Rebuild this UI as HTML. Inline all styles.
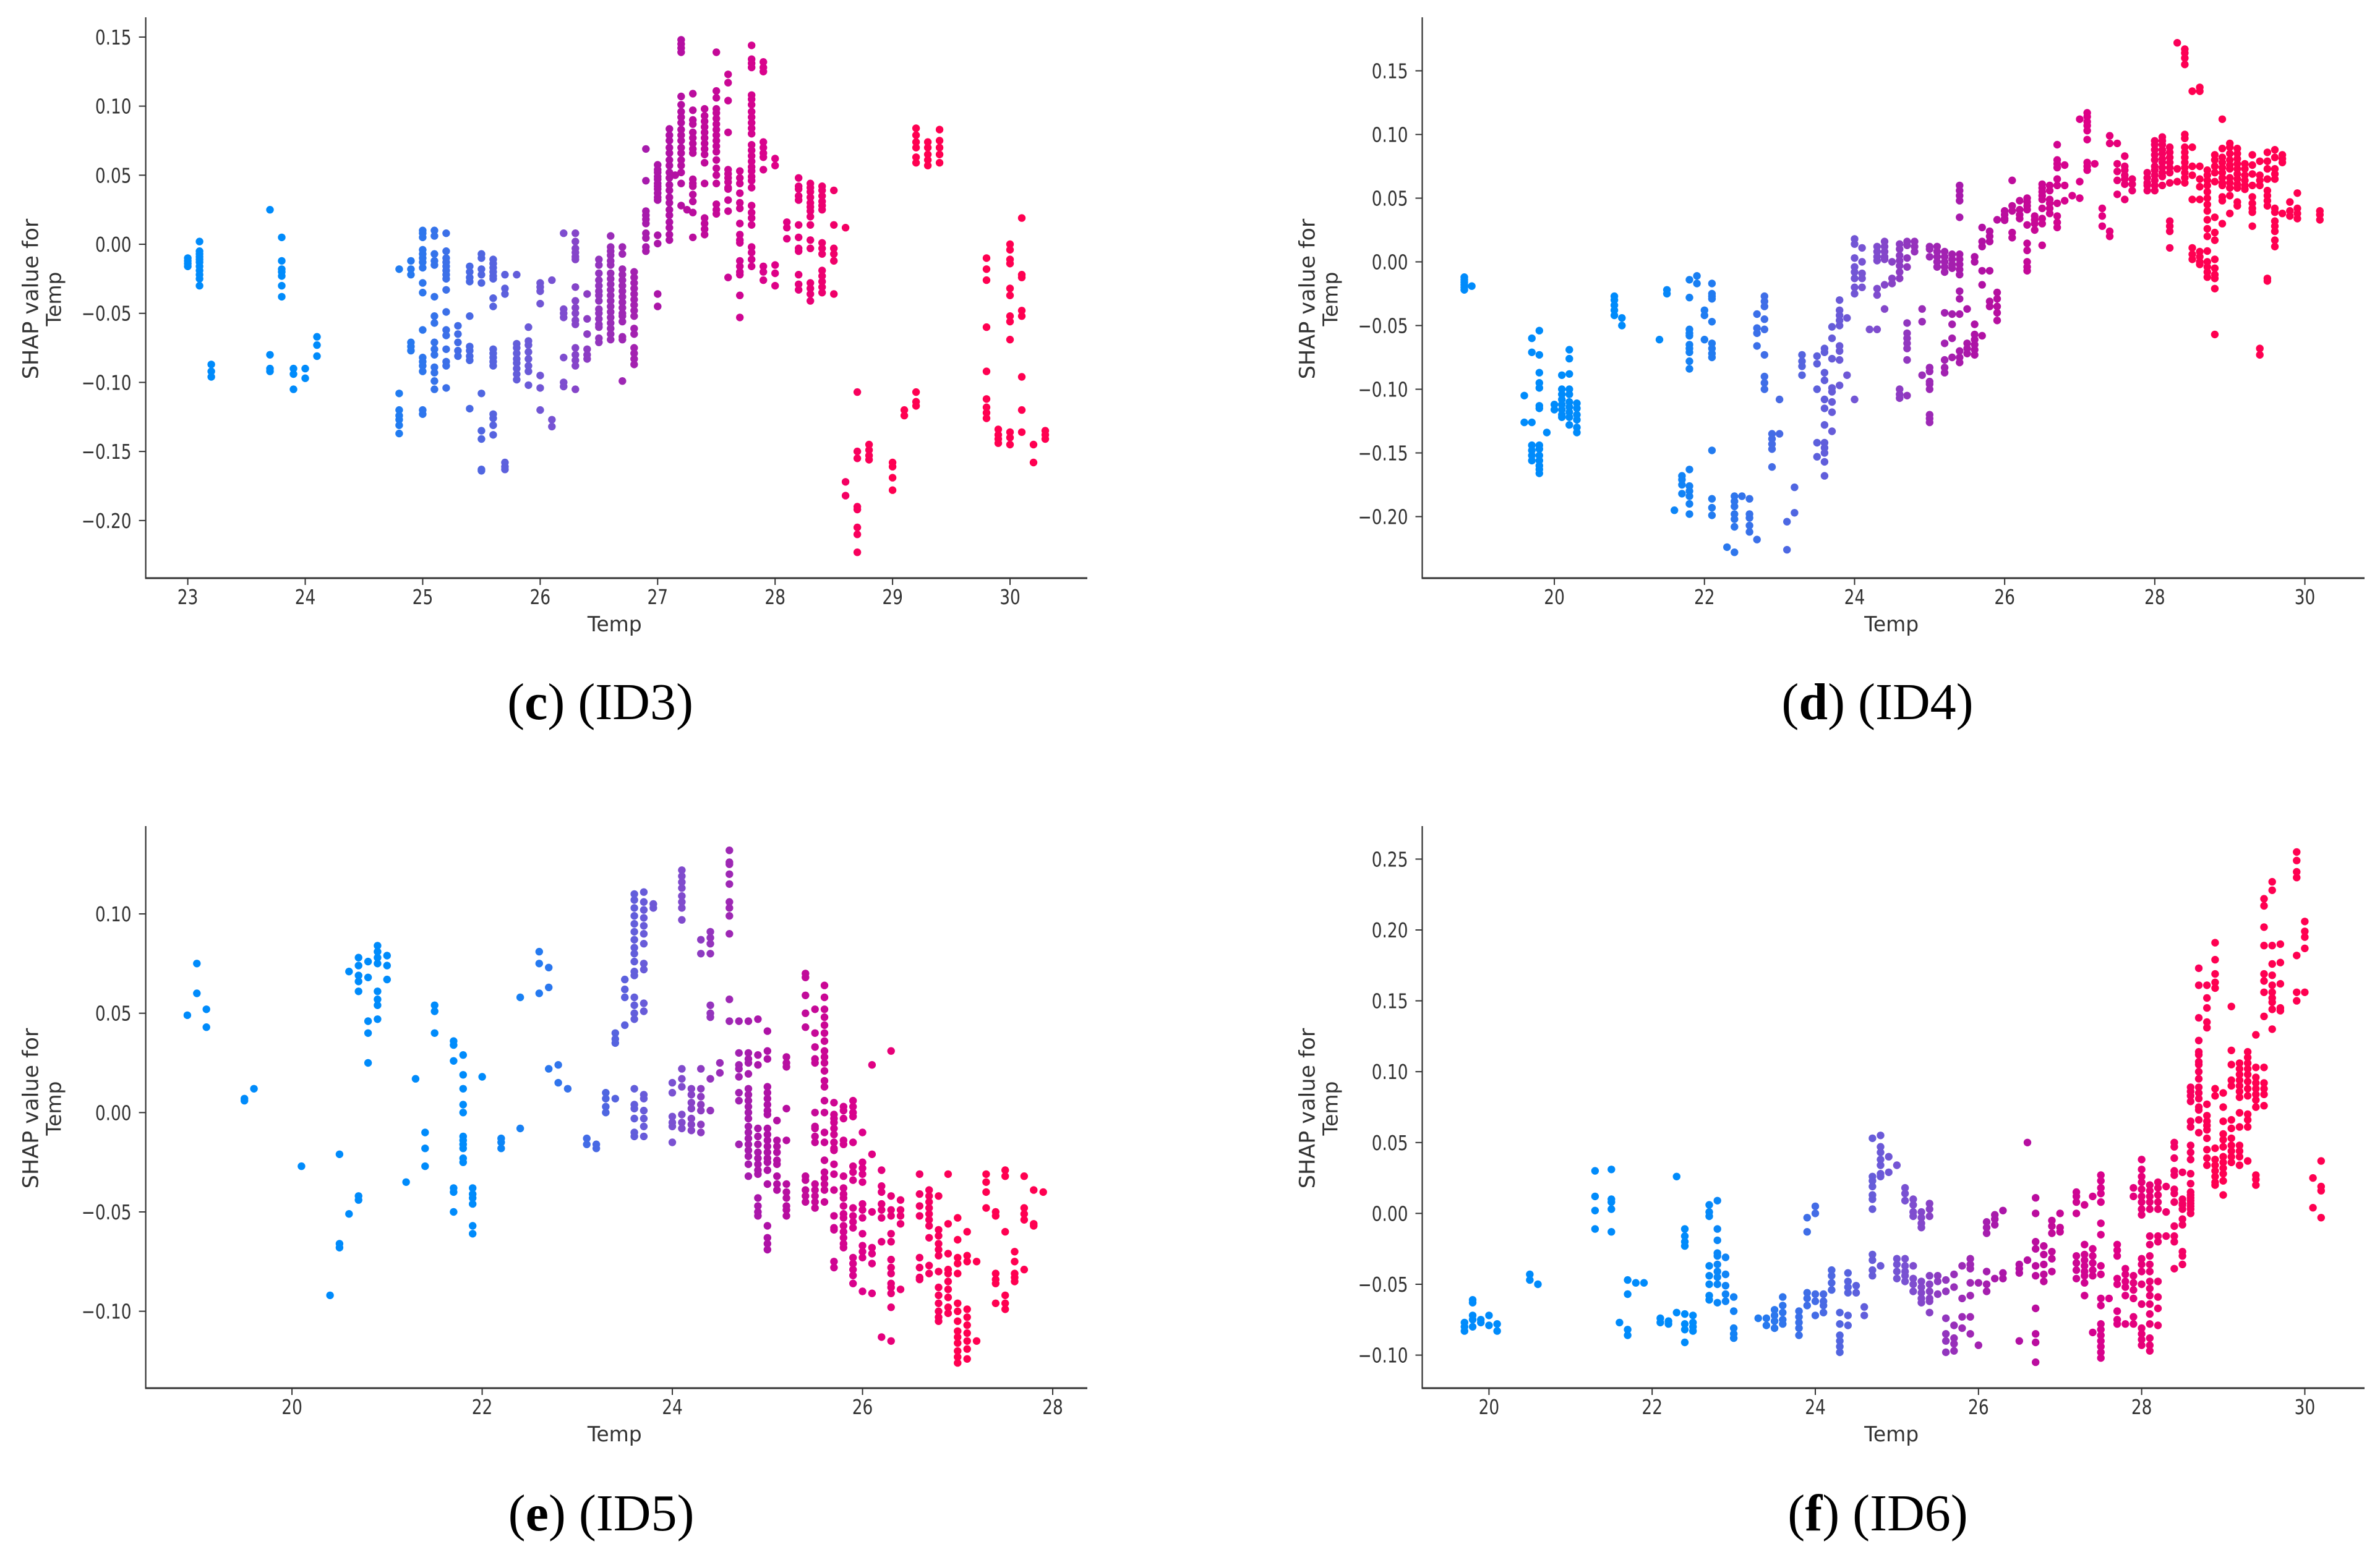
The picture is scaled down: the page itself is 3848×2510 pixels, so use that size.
<!DOCTYPE html>
<html lang="en">
<head>
<meta charset="utf-8">
<title>SHAP dependence plots for Temp</title>
<style>
html,body{margin:0;padding:0;background:#fff}
svg{display:block}
</style>
</head>
<body>
<svg id="figure" xmlns="http://www.w3.org/2000/svg" width="3848" height="2510" viewBox="0 0 3848 2510">
<rect width="3848" height="2510" fill="#ffffff"/>
</svg>
<script>
const id3Temps=[23,23.1,23.2,23.7,23.8,23.9,24,24.1,24.8,24.9,25,25.1,25.2,25.3,25.4,25.5,25.6,25.7,25.8,25.9,26,26.1,26.2,26.3,26.4,26.5,26.6,26.7,26.8,26.9,27,27.1,27.15,27.2,27.25,27.3,27.4,27.5,27.6,27.7,27.8,27.9,28,28.1,28.2,28.3,28.4,28.5,28.6,28.7,28.8,29,29.1,29.2,29.3,29.4,29.8,29.9,30,30.1,30.2,30.3];
const id3Shap=[
[-.010,-.012,-.014,-.016],
[.002,-.005,-.007,-.009,-.011,-.013,-.016,-.019,-.022,-.025,-.030],
[-.087,-.092,-.096],
[.025,-.08,-.09,-.092],
[.005,-.012,-.018,-.02,-.023,-.03,-.038],
[-.09,-.094,-.105],
[-.09,-.097],
[-.067,-.073,-.081],
[-.018,-.108,-.12,-.124,-.127,-.131,-.137],
[-.012,-.018,-.022,-.071,-.074,-.077],
[.01,.008,.005,-.004,-.007,-.01,-.013,-.017,-.028,-.035,-.062,-.082,-.085,-.088,-.092,-.12,-.123],
[.01,.006,-.007,-.012,-.015,-.038,-.052,-.057,-.071,-.076,-.08,-.089,-.093,-.099,-.105],
[.008,-.005,-.01,-.013,-.016,-.019,-.022,-.025,-.033,-.049,-.062,-.066,-.076,-.085,-.088,-.104],
[-.059,-.065,-.071,-.077,-.081],
[-.016,-.02,-.024,-.027,-.052,-.074,-.077,-.081,-.084,-.119],
[-.007,-.01,-.018,-.022,-.028,-.108,-.135,-.141,-.163,-.164],
[-.011,-.014,-.017,-.02,-.023,-.025,-.039,-.045,-.076,-.079,-.082,-.085,-.088,-.123,-.126,-.131,-.138],
[-.022,-.032,-.036,-.158,-.161,-.163],
[-.022,-.072,-.075,-.079,-.083,-.086,-.09,-.094,-.098],
[-.06,-.07,-.073,-.078,-.083,-.088,-.092,-.102],
[-.028,-.031,-.034,-.043,-.095,-.104,-.12],
[-.026,-.127,-.132],
[.008,-.047,-.05,-.053,-.082,-.1,-.103],
[.008,.002,-.003,-.006,-.009,-.011,-.031,-.041,-.046,-.05,-.055,-.058,-.075,-.08,-.084,-.088,-.105],
[-.036,-.054,-.065,-.076,-.08,-.083],
[-.011,-.015,-.021,-.026,-.03,-.034,-.037,-.041,-.047,-.05,-.054,-.058,-.06,-.068,-.071],
[.006,-.002,-.005,-.008,-.012,-.015,-.021,-.025,-.029,-.033,-.037,-.041,-.045,-.049,-.053,-.057,-.061,-.065,-.069],
[-.002,-.007,-.018,-.022,-.026,-.03,-.034,-.038,-.042,-.046,-.05,-.052,-.056,-.067,-.069,-.099],
[-.02,-.024,-.028,-.032,-.036,-.04,-.044,-.048,-.052,-.061,-.065,-.075,-.079,-.083,-.087],
[.069,.046,.024,.021,.018,.015,.008,.0045,-.002,-.005],
[.0575,.054,.052,.049,.047,.044,.042,.04,.037,.034,.032,.0065,.0005,-.036,-.045],
[.0835,.079,.075,.07,.066,.061,.057,.052,.048,.043,.039,.034,.03,.025,.021,.016,.012,.007,.003],
[.05],
[.148,.145,.142,.139,.107,.101,.096,.092,.088,.083,.079,.075,.07,.066,.061,.057,.052,.044,.028],
[.025],
[.109,.097,.09,.087,.081,.077,.073,.069,.066,.047,.044,.042,.036,.031,.023,.005],
[.098,.093,.089,.085,.081,.077,.073,.069,.065,.059,.044,.019,.015,.011,.007],
[.139,.111,.106,.098,.095,.091,.087,.083,.079,.075,.071,.067,.061,.055,.05,.044,.029,.025,.022],
[.123,.117,.104,.081,.054,.051,.048,.045,.041,.04,.032,.024,-.024],
[.053,.048,.044,.037,.03,.026,.015,.007,.003,.001,-.012,-.016,-.02,-.022,-.037,-.053],
[.144,.134,.131,.128,.108,.105,.101,.096,.092,.088,.084,.08,.072,.068,.064,.06,.056,.053,.049,.046,.041,.028,.023,.019,.014,-.002,-.006,-.011,-.016],
[.132,.128,.125,.074,.07,.066,.063,.054,-.016,-.02,-.026],
[.062,.057,-.015,-.021,-.03],
[.016,.012,.004],
[.048,.042,.04,.035,.032,.014,.005,-.003,-.005,-.022,-.029,-.033],
[.044,.041,.038,.034,.03,.027,.024,.02,.014,.003,-.003,-.028,-.032,-.036,-.041],
[.042,.039,.035,.031,.028,.025,.001,-.003,-.007,-.019,-.023,-.027,-.031,-.035],
[.039,.014,-.003,-.007,-.012,-.036],
[.012,-.172,-.182],
[-.107,-.15,-.155,-.19,-.192,-.205,-.21,-.223],
[-.145,-.149,-.153,-.156],
[-.158,-.161,-.169,-.178],
[-.12,-.124],
[.084,.079,.074,.07,.063,.059,-.107,-.114,-.117],
[.074,.07,.065,.061,.057],
[.083,.075,.07,.065,.059],
[-.01,-.018,-.026,-.06,-.092,-.112,-.118,-.122,-.126],
[-.134,-.138,-.141,-.144],
[0,-.004,-.011,-.014,-.032,-.037,-.052,-.056,-.069,-.136,-.14,-.145],
[.019,-.022,-.024,-.048,-.052,-.096,-.12,-.136],
[-.145,-.158],
[-.135,-.138,-.141]
];
const id3XTicks=[23,24,25,26,27,28,29,30];
const id3YTicks=[.15,.1,.05,0,-.05,-.1,-.15,-.2];

const id4Temps=[18.8,18.9,19.6,19.7,19.8,19.9,20,20.1,20.2,20.3,20.8,20.9,21.4,21.5,21.6,21.7,21.8,21.9,22,22.1,22.3,22.4,22.5,22.6,22.7,22.8,22.9,23,23.1,23.2,23.3,23.5,23.6,23.7,23.8,23.9,24,24.1,24.2,24.3,24.4,24.5,24.6,24.7,24.8,24.9,25,25.1,25.2,25.3,25.4,25.5,25.6,25.7,25.8,25.9,26,26.1,26.2,26.3,26.4,26.5,26.6,26.7,26.8,26.9,27,27.1,27.2,27.3,27.4,27.5,27.6,27.7,27.9,28,28.1,28.2,28.3,28.4,28.5,28.6,28.7,28.8,28.9,29,29.1,29.2,29.3,29.4,29.5,29.6,29.7,29.8,29.9,30.2];
const id4Shap=[
[-.012,-.014,-.016,-.018,-.02,-.022],
[-.019],
[-.105,-.126],
[-.06,-.071,-.126,-.144,-.148,-.152,-.156],
[-.054,-.073,-.087,-.095,-.099,-.113,-.115,-.144,-.147,-.152,-.156,-.16,-.163,-.166],
[-.134],
[-.112,-.116],
[-.089,-.1,-.104,-.108,-.112,-.116,-.12,-.122],
[-.069,-.076,-.088,-.1,-.104,-.11,-.114,-.118,-.122,-.128],
[-.111,-.115,-.12,-.124,-.13,-.134],
[-.027,-.03,-.034,-.038,-.042],
[-.044,-.05],
[-.061],
[-.022,-.025],
[-.195],
[-.168,-.171,-.175,-.182],
[-.014,-.028,-.053,-.056,-.058,-.065,-.068,-.071,-.078,-.084,-.163,-.176,-.18,-.184,-.19,-.198],
[-.011,-.017],
[-.038,-.042,-.061],
[-.017,-.025,-.027,-.029,-.047,-.064,-.068,-.072,-.075,-.148,-.186,-.193,-.199],
[-.224],
[-.184,-.188,-.192,-.198,-.202,-.208,-.228],
[-.184],
[-.186,-.198,-.201,-.207,-.212],
[-.041,-.052,-.056,-.066,-.218],
[-.027,-.031,-.035,-.045,-.053,-.073,-.09,-.095,-.1],
[-.135,-.139,-.143,-.147,-.161],
[-.108,-.135],
[-.204,-.226],
[-.177,-.197],
[-.073,-.078,-.082,-.089],
[-.074,-.08,-.1,-.142,-.153],
[-.068,-.071,-.087,-.093,-.108,-.115,-.128,-.142,-.146,-.15,-.157,-.168],
[-.051,-.06,-.076,-.099,-.102,-.11,-.118,-.133],
[-.03,-.038,-.042,-.046,-.05,-.066,-.07,-.077,-.097],
[-.044,-.089],
[.018,.014,.003,-.004,-.008,-.013,-.02,-.025,-.108],
[.011,0,-.009,-.013,-.02],
[-.053],
[.012,.008,.004,.001,-.021,-.026,-.053],
[.016,.012,.008,.004,.002,-.018,-.037],
[0,-.013,-.017],
[.014,.01,.005,.001,-.003,-.008,-.013,-.1,-.104,-.107],
[.016,.013,.003,-.004,-.048,-.056,-.06,-.064,-.068,-.077,-.105],
[.016,.012,.008],
[-.037,-.047,-.089],
[.012,.01,.004,-.083,-.086,-.094,-.096,-.1,-.12,-.123,-.126],
[.012,.008,.004,0,-.004],
[.008,.004,0,-.004,-.008,-.04,-.064,-.077,-.083,-.087],
[.006,.002,-.002,-.005,-.041,-.049,-.06,-.075],
[.06,.056,.052,.048,.035,.006,.002,-.002,-.006,-.01,-.023,-.029,-.041,-.07,-.075,-.079],
[-.037,-.064,-.068,-.072],
[.004,0,-.049,-.057,-.061,-.065,-.069,-.073],
[.027,.016,.012,-.007,-.018,-.058],
[.024,.02,.016,-.007,-.031,-.035],
[.033,-.024,-.029,-.035,-.04,-.046],
[.04,.037,.034,.0327],
[.064,.044,.04,.023,.019],
[.048,.041,.037,.034],
[.05,.047,.044,.041,.029,.0145,.009,0,-.004,-.007],
[.036,.033,.03,.025],
[.061,.058,.055,.052,.049,.042,.034,.03,.013],
[.06,.056,.049,.046,.042,.038],
[.092,.08,.077,.074,.065,.06,.046,.036,.031,.027],
[.076,.06,.048],
[.052],
[.112,.063,.05],
[.117,.114,.11,.107,.103,.096,.078,.075,.072],
[.077],
[.042,.036,.028],
[.099,.093,.024,.02],
[.093,.077,.071,.064,.053],
[.083,.075,.072,.068,.065,.061,.049],
[.065,.061,.056],
[.07,.066,.062,.06,.056],
[.095,.092,.088,.084,.08,.075,.072,.068,.064,.06,.056],
[.098,.095,.092,.088,.085,.081,.078,.074,.07,.067,.06],
[.09,.086,.082,.078,.074,.07,.062,.032,.028,.024,.011],
[.172,.073,.063],
[.167,.164,.16,.155,.1,.097,.09,.086,.082,.078,.074,.07,.066,.062],
[.134,.09,.075,.068,.049,.011,.006,.002],
[.137,.134,.075,.065,.059,.049,.008,.004,0,-.002],
[.072,.068,.064,.06,.055,.05,.045,.04,.033,.026,.02,.0085,0,-.004,-.008,-.012],
[.084,.08,.075,.07,.063,.035,.023,.017,.002,-.005,-.01,-.013,-.021,-.057],
[.112,.089,.082,.078,.074,.07,.066,.062,.06,.051,.048,.03],
[.093,.09,.085,.08,.076,.073,.066,.062,.058,.052,.038],
[.089,.085,.081,.077,.073,.069,.065,.061,.058,.047,.044],
[.077,.073,.068,.064,.06,.057],
[.084,.076,.069,.06,.051,.046,.042,.039,.028],
[.079,.068,.064,.06,-.068,-.073],
[.086,.079,.073,.065,.056,.052,.048,.044,-.013,-.015],
[.088,.082,.073,.069,.065,.042,.039,.032,.028,.024,.017,.012],
[.084,.081,.078,.038],
[.047,.04,.036],
[.054,.042,.038,.034],
[.04,.037,.033]
];
const id4XTicks=[20,22,24,26,28,30];
const id4YTicks=[.15,.1,.05,0,-.05,-.1,-.15,-.2];

const id5Temps=[18.9,19,19.1,19.5,19.6,20.1,20.4,20.5,20.6,20.7,20.8,20.9,21,21.2,21.3,21.4,21.5,21.7,21.8,21.9,22,22.2,22.4,22.6,22.7,22.8,22.9,23.1,23.2,23.3,23.4,23.5,23.6,23.7,23.8,24,24.1,24.2,24.3,24.4,24.5,24.6,24.7,24.8,24.9,25,25.1,25.2,25.4,25.5,25.6,25.7,25.8,25.9,26,26.1,26.2,26.3,26.4,26.6,26.7,26.8,26.9,27,27.1,27.2,27.3,27.4,27.5,27.6,27.7,27.8,27.9];
const id5Shap=[
[.049],
[.075,.06],
[.052,.043],
[.007,.006],
[.012],
[-.027],
[-.092],
[-.021,-.066,-.068],
[.071,-.051],
[.078,.074,.069,.066,.061,-.042,-.044],
[.076,.068,.046,.04,.025],
[.084,.081,.078,.075,.061,.057,.054,.047],
[.079,.074,.067],
[-.035],
[.017],
[-.01,-.018,-.027],
[.054,.051,.04],
[.036,.034,.026,-.038,-.04,-.05],
[.029,.019,.012,.004,0,-.012,-.014,-.016,-.018,-.023,-.025],
[-.038,-.041,-.043,-.046,-.057,-.061],
[.018],
[-.013,-.015,-.018],
[.058,-.008],
[.081,.075,.06],
[.073,.063,.022],
[.024,.015],
[.012],
[-.013,-.016],
[-.016,-.018],
[.01,.007,.003,0],
[.04,.037,.035,.007],
[.067,.062,.058,.044],
[.11,.107,.103,.099,.095,.091,.087,.083,.08,.076,.071,.069,.058,.054,.05,.047,.012,.004,.002,-.003,-.01,-.012],
[.111,.106,.102,.098,.094,.09,.085,.075,.072,.055,.051,.009,.007,.001,-.003,-.007,-.012],
[.105,.103],
[.015,.01,-.002,-.005,-.007,-.015],
[.122,.119,.116,.113,.109,.106,.103,.097,.022,.017,.013,-.001,-.005,-.008],
[.012,.009,.005,.002,-.003,-.006,-.009],
[.087,.08,.022,.012,.008,.004,.001,-.006,-.01],
[.091,.088,.085,.08,.054,.05,.048,.017,.001],
[.025,.02],
[.132,.126,.125,.12,.115,.106,.103,.099,.09,.057,.046],
[.046,.03,.024,.022,.018,.01,.006,-.016],
[.046,.03,.027,.025,.0195,.012,.009,.006,.003,0,-.003,-.007,-.01,-.013,-.016,-.019,-.022,-.026,-.032],
[.047,.029,.024,-.008,-.012,-.016,-.02,-.023,-.026,-.029,-.031,-.043,-.047,-.05,-.052],
[.041,.031,.027,.013,.01,.007,.004,.001,-.001,-.008,-.011,-.014,-.017,-.02,-.023,-.025,-.029,-.036,-.057,-.063,-.066,-.069],
[-.004,-.014,-.017,-.02,-.024,-.026,-.032,-.036,-.039],
[.028,.025,.023,.002,-.014,-.036,-.04,-.043,-.047,-.049,-.052],
[.07,.068,.059,.05,.043,-.032,-.034,-.039,-.042,-.045],
[.052,.04,.033,.027,.025,0,-.007,-.008,-.012,-.015,-.036,-.039,-.042,-.045,-.048],
[.064,.058,.052,.048,.044,.04,.036,.031,.028,.025,.021,.016,.013,.006,0,-.01,-.015,-.024,-.03,-.033,-.036,-.039,-.045],
[.005,-.001,-.003,-.005,-.008,-.011,-.015,-.018,-.019,-.026,-.031,-.039,-.052,-.058,-.059,-.075,-.078],
[.003,.001,-.003,-.014,-.016,-.032,-.038,-.041,-.043,-.047,-.051,-.053,-.057,-.06,-.063,-.066,-.068],
[.006,.003,0,-.002,-.015,-.027,-.03,-.034,-.048,-.052,-.055,-.058,-.073,-.076,-.079,-.082,-.086],
[-.01,-.025,-.028,-.031,-.035,-.046,-.049,-.053,-.061,-.067,-.07,-.073,-.09],
[.024,-.021,-.05,-.068,-.071,-.076,-.091],
[-.029,-.037,-.04,-.046,-.049,-.053,-.065,-.113],
[.031,-.042,-.049,-.052,-.061,-.065,-.074,-.078,-.081,-.086,-.088,-.091,-.098,-.115],
[-.044,-.049,-.052,-.056,-.089],
[-.031,-.041,-.047,-.052,-.073,-.078,-.083,-.084],
[-.039,-.042,-.045,-.048,-.051,-.054,-.057,-.063,-.077,-.081],
[-.042,-.059,-.062,-.066,-.069,-.072,-.08,-.088,-.092,-.096,-.1,-.103,-.105],
[-.031,-.056,-.071,-.079,-.081,-.085,-.089,-.093,-.098,-.101],
[-.053,-.064,-.073,-.076,-.081,-.096,-.1,-.105,-.11,-.113,-.116,-.12,-.123,-.126],
[-.06,-.072,-.075,-.099,-.103,-.107,-.111,-.115,-.119,-.124],
[-.075,-.115],
[-.031,-.035,-.04,-.048],
[-.05,-.052,-.081,-.084,-.086,-.096],
[-.029,-.032,-.06,-.092,-.096,-.099],
[-.07,-.075,-.081,-.083,-.085],
[-.032,-.048,-.051,-.054,-.079],
[-.039,-.056,-.057],
[-.04]
];
const id5XTicks=[20,22,24,26,28];
const id5YTicks=[.1,.05,0,-.05,-.1];

const id6Temps=[19.7,19.8,19.9,20,20.1,20.5,20.6,21.3,21.5,21.6,21.7,21.8,21.9,22.1,22.2,22.3,22.4,22.5,22.7,22.8,22.9,23,23.3,23.4,23.5,23.6,23.8,23.9,24,24.1,24.2,24.3,24.4,24.5,24.6,24.7,24.8,24.9,25,25.1,25.2,25.3,25.4,25.5,25.6,25.7,25.8,25.9,26,26.1,26.2,26.3,26.5,26.6,26.7,26.8,26.9,27,27.2,27.3,27.4,27.5,27.6,27.7,27.8,27.9,28,28.1,28.2,28.3,28.4,28.5,28.6,28.7,28.8,28.9,29,29.1,29.2,29.3,29.4,29.5,29.6,29.7,29.9,30,30.1,30.2];
const id6Shap=[
[-.077,-.08,-.083],
[-.061,-.063,-.072,-.075,-.08],
[-.075,-.077],
[-.072,-.079],
[-.078,-.083],
[-.043,-.047],
[-.05],
[.03,.012,.002,-.011],
[.031,.01,.008,.003,-.013],
[-.077],
[-.047,-.057,-.082,-.086],
[-.049],
[-.049],
[-.074,-.077],
[-.076,-.078],
[.026,-.07],
[-.011,-.016,-.02,-.023,-.071,-.078,-.082,-.091],
[-.072,-.077,-.08,-.083],
[.006,.001,-.002,-.037,-.044,-.05,-.058,-.061],
[.009,-.011,-.019,-.028,-.03,-.036,-.041,-.045,-.05,-.063],
[-.031,-.043,-.051,-.057,-.062],
[-.059,-.069,-.081,-.085,-.088],
[-.074],
[-.074,-.079],
[-.068,-.072,-.076,-.081],
[-.059,-.065,-.07,-.075,-.078],
[-.069,-.073,-.077,-.081,-.086],
[-.003,-.013,-.056,-.06,-.065],
[.005,0,-.057,-.062,-.072],
[-.057,-.062,-.065,-.07],
[-.04,-.044,-.049,-.054],
[-.07,-.078,-.086,-.09,-.094,-.098],
[-.042,-.048,-.052,-.056,-.072,-.079],
[-.051,-.056],
[-.066,-.072],
[.053,.026,.023,.019,.013,.01,.003,-.029,-.033,-.04,-.044],
[.055,.047,.043,.038,.034,.028,.026,-.037],
[.04,.029],
[.034,-.032,-.036,-.041,-.046],
[.018,.014,.009,-.032,-.037,-.041,-.044,-.048],
[.01,.006,.001,-.002,-.037,-.046,-.05,-.055],
[.001,-.003,-.007,-.01,-.048,-.052,-.056,-.06,-.063],
[.007,.003,-.002,-.044,-.05,-.055,-.06,-.062,-.07],
[-.044,-.048,-.057],
[-.047,-.055,-.074,-.085,-.09,-.098],
[-.043,-.052,-.079,-.088,-.092,-.097],
[-.037,-.06,-.073,-.081],
[-.032,-.036,-.039,-.049,-.058,-.073,-.085],
[-.049,-.093],
[-.006,-.01,-.014,-.041,-.05,-.055],
[-.001,-.004,-.008,-.046],
[.002,-.042,-.046],
[-.036,-.039,-.042,-.09],
[.05,-.033],
[.011,0,-.02,-.025,-.037,-.044,-.067,-.085,-.091,-.105],
[-.023,-.029,-.036,-.043,-.048],
[-.005,-.009,-.014,-.027,-.032,-.041],
[0,-.01,-.013],
[.015,.012,.008,0,-.03,-.035,-.04,-.046],
[.006,-.022,-.029,-.033,-.037,-.041,-.044,-.049,-.058],
[.012,-.025,-.03,-.035,-.04,-.044,-.084],
[.027,.023,.018,.014,.008,-.007,-.015,-.037,-.043,-.06,-.065,-.078,-.082,-.086,-.09,-.094,-.098,-.102],
[-.06],
[-.022,-.026,-.03,-.046,-.05,-.069,-.075,-.078],
[-.039,-.043,-.048,-.052,-.058,-.078],
[.018,.012,-.044,-.049,-.054,-.06,-.073,-.078],
[.038,.031,.026,.022,.017,.012,.008,.003,-.001,-.032,-.036,-.041,-.05,-.064,-.081,-.085,-.089,-.093],
[.02,.016,.012,.008,.003,-.016,-.022,-.03,-.036,-.041,-.048,-.053,-.058,-.064,-.071,-.078,-.088,-.093,-.097],
[.022,.018,.013,.008,.003,-.016,-.02,-.048,-.059,-.067,-.079],
[.019,.001,-.016],
[.05,.047,.039,.03,.027,.017,.014,.008,-.009,-.016,-.02,-.039],
[.029,.01,.007,.006,.003,-.004,-.008,-.027,-.03,-.036],
[.089,.086,.083,.079,.065,.061,.048,.043,.038,.028,.021,.015,.013,.011,.009,.007,.005,.003,0],
[.173,.161,.138,.122,.114,.112,.107,.105,.1,.095,.089,.085,.081,.075,.073,.066,.057],
[.161,.152,.145,.135,.131,.077,.069,.065,.062,.059,.053,.045,.039,.034],
[.191,.179,.169,.163,.159,.088,.083,.046,.038,.034,.03,.026,.022,.02],
[.085,.075,.065,.056,.052,.047,.04,.036,.032,.028,.023,.013],
[.146,.115,.105,.094,.09,.066,.06,.053,.048,.044,.04,.036],
[.106,.102,.098,.094,.09,.086,.082,.071,.061,.048,.044,.04,.034],
[.114,.11,.106,.102,.098,.093,.088,.083,.07,.066,.061,.037],
[.126,.103,.096,.092,.088,.084,.08,.075,.027,.024,.02],
[.222,.217,.202,.189,.169,.164,.156,.139,.103,.092,.088,.084,.076],
[.234,.228,.189,.176,.168,.161,.156,.152,.149,.144,.13],
[.19,.177,.162,.145,.143],
[.255,.249,.241,.237,.182,.156,.15],
[.206,.199,.195,.187,.156],
[.025,.004],
[.037,.019,.016,-.003]
];
const id6XTicks=[20,22,24,26,28,30];
const id6YTicks=[.25,.2,.15,.1,.05,0,-.05,-.1];

const colorStops=[[0,139,251],[61,111,232],[122,82,210],[154,45,184],[174,18,166],[221,0,137],[255,0,81]];
const colorStopAt=[0,.2,.4,.5,.6,.8,1];

const panels=[
 {id:'id3',temps:id3Temps,shap:id3Shap,xTicks:id3XTicks,yTicks:id3YTicks,
  left:235.6,right:1758,top:28,bottom:935,xDomain:[22.642,30.658],yDomain:[-.2417,.1643],
  colorRange:[24.3,28.9],caption:'c',captionRest:') (ID3)',captionX:970.5,captionY:1163},
 {id:'id4',temps:id4Temps,shap:id4Shap,xTicks:id4XTicks,yTicks:id4YTicks,
  left:2299.5,right:3823,top:28,bottom:935,xDomain:[18.24,30.795],yDomain:[-.2483,.192],
  colorRange:[21.3,28.5],caption:'d',captionRest:') (ID4)',captionX:3035.5,captionY:1163},
 {id:'id5',temps:id5Temps,shap:id5Shap,xTicks:id5XTicks,yTicks:id5YTicks,
  left:235.6,right:1758,top:1336,bottom:2245,xDomain:[18.462,28.364],yDomain:[-.1387,.1442],
  colorRange:[22,27],caption:'e',captionRest:') (ID5)',captionX:972,captionY:2475},
 {id:'id6',temps:id6Temps,shap:id6Shap,xTicks:id6XTicks,yTicks:id6YTicks,
  left:2299.5,right:3823,top:1336,bottom:2245,xDomain:[19.182,30.732],yDomain:[-.1233,.2733],
  colorRange:[22.6,28.9],caption:'f',captionRest:') (ID6)',captionX:3036,captionY:2475}
];

const NS='http://www.w3.org/2000/svg';
const root=document.getElementById('figure');
const INK='#333333';
const DOT_RADIUS=6.2;

function make(tag,attrs,parent){
  const el=document.createElementNS(NS,tag);
  for(const k in attrs){el.setAttribute(k,attrs[k]);}
  parent.appendChild(el);
  return el;
}
function xScale(p,v){return p.left+(v-p.xDomain[0])/(p.xDomain[1]-p.xDomain[0])*(p.right-p.left);}
function yScale(p,v){return p.bottom-(v-p.yDomain[0])/(p.yDomain[1]-p.yDomain[0])*(p.bottom-p.top);}
function pointColor(p,temp){
  let t=(temp-p.colorRange[0])/(p.colorRange[1]-p.colorRange[0]);
  t=Math.max(0,Math.min(1,t));
  let i=0;
  while(i<colorStopAt.length-2&&t>colorStopAt[i+1]){i++;}
  const f=(t-colorStopAt[i])/(colorStopAt[i+1]-colorStopAt[i]);
  const a=colorStops[i],b=colorStops[i+1];
  return 'rgb('+a.map((c,j)=>Math.round(c+(b[j]-c)*f)).join(',')+')';
}
function fmtY(v){
  const s=Math.abs(v).toFixed(2);
  return v<-1e-9?'\u2212'+s:s;
}
function condensed(parent,x,y,str,size,sx,anchor){
  return make('text',{transform:'translate('+x+' '+y+') scale('+sx+' 1)',
    'font-family':'"DejaVu Sans",sans-serif','font-size':size,fill:INK,'text-anchor':anchor},parent);
}

panels.forEach(function(p){
  const g=make('g',{},root);
  
  

  const dots=make('g',{},g);
  
  
  p.temps.forEach(function(temp,i){
    p.shap[i].forEach(function(val){
      const dot=make('circle',{cx:xScale(p,temp).toFixed(1),cy:yScale(p,val).toFixed(1),r:DOT_RADIUS,fill:pointColor(p,temp)},dots);
      
      
    });
  });

  const yAxis=make('line',{x1:p.left,x2:p.left,y1:p.top,y2:p.bottom,stroke:INK,'stroke-width':2.2},g);
  
  
  const xAxis=make('line',{x1:p.left-1,x2:p.right,y1:p.bottom,y2:p.bottom,stroke:INK,'stroke-width':3},g);
  
  

  p.xTicks.forEach(function(v){
    const x=xScale(p,v);
    const tick=make('line',{x1:x,x2:x,y1:p.bottom,y2:p.bottom+11,stroke:INK,'stroke-width':2},g);
    
    
    const label=condensed(g,x,p.bottom+42,'',33,.8,'middle');
    label.textContent=String(v);
    
    
  });
  p.yTicks.forEach(function(v){
    const y=yScale(p,v);
    const tick=make('line',{x1:p.left-11,x2:p.left,y1:y,y2:y,stroke:INK,'stroke-width':2},g);
    
    
    const label=condensed(g,p.left-23,y+12,'',33,.8,'end');
    label.textContent=fmtY(v);
    
    
  });

  const xTitle=condensed(g,(p.left+p.right)/2-3,p.bottom+86,'',34,.97,'middle');
  xTitle.textContent='Temp';
  
  

  const midY=(p.top+p.bottom)/2+2;
  const t1=make('text',{transform:'translate('+(p.left-174)+' '+midY+') rotate(-90)',
    'font-family':'"DejaVu Sans",sans-serif','font-size':35,fill:INK,'text-anchor':'middle'},g);
  t1.textContent='SHAP value for';
  
  
  const t2=make('text',{transform:'translate('+(p.left-137)+' '+midY+') rotate(-90)',
    'font-family':'"DejaVu Sans",sans-serif','font-size':33,fill:INK,'text-anchor':'middle'},g);
  t2.textContent='Temp';
  
  

  const cap=make('text',{x:p.captionX,y:p.captionY,'font-family':'"Liberation Serif",serif','font-size':84,fill:'#000','text-anchor':'middle'},root);
  
  
  cap.appendChild(document.createTextNode('('));
  const b=make('tspan',{'font-weight':'bold'},cap);
  b.textContent=p.caption;
  cap.appendChild(document.createTextNode(p.captionRest));
});
</script>
</body>
</html>
